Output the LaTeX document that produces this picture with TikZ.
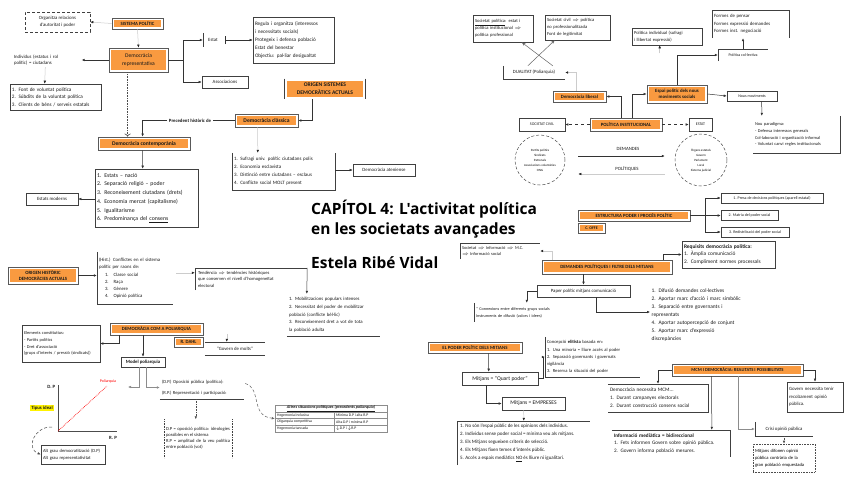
\documentclass[tikz,border=0pt]{standalone}
\usepackage{fontspec}
\setmainfont{Carlito}
\newfontfamily\ttlfont{Open Sans}
\usetikzlibrary{arrows.meta,calc}
\definecolor{orng}{HTML}{F99A40}
\newcommand\szA{\fontsize{5.6}{7.9}\selectfont}
\newcommand\szB{\fontsize{4.8}{6.6}\selectfont}
\newcommand\szC{\fontsize{4.0}{5.6}\selectfont}
\newcommand\dbl{\ensuremath{\Rightarrow}}
\tikzset{
  base/.style={inner sep=1.5pt, align=left, font=\szA, text=black!90},
  bx/.style={base, draw=black!75, line width=0.6pt, fill=white},
  nb/.style={base},
  ob/.style={base, align=center, font=\szB\bfseries, draw=black!65, line width=0.8pt, fill=white,
    path picture={\fill[orng] ([shift={(1.8pt,-1.8pt)}]path picture bounding box.north west) rectangle ([shift={(-1.8pt,1.8pt)}]path picture bounding box.south east);}},
  brd/.style={draw=black!75, line width=0.6pt},
  tip/.style={-{Latex[length=3pt,width=2.6pt]}},
  arr/.style={draw=black!80, line width=0.5pt, tip},
  arrg/.style={draw=black!20, line width=0.5pt, -{Latex[length=3pt,width=2.6pt,color=black!85]}},
  ln/.style={draw=black!80, line width=0.5pt},
  tl/.style={draw=black!45, line width=0.4pt},
  ttl/.style={anchor=base west, inner sep=0, font=\ttlfont\bfseries\fontsize{15.5}{18}\selectfont, text=black}
}
\begin{document}
\begin{tikzpicture}[x=1pt,y=-1pt]
\useasboundingbox[fill=white] (0,0) rectangle (848,477);

% ---------------- top left
\node[bx, densely dashed, minimum width=65, minimum height=20, align=center, font=\szB] (org) at (57.5,22) {Organitza relacions\\d'autoritat i poder};
\node[ob, minimum width=51, minimum height=11] (sp) at (137.5,23.5) {SISTEMA POLÍTIC};
\node[ob, minimum width=59, minimum height=24, font=\szA] (demrep) at (138.5,60) {Democràcia\\representativa};
\node[nb, text width=66, font=\szB] (indiv) at (47,60) {Individus (estatus i rol\\polític) = ciutadans};
\node[bx, minimum width=91, minimum height=26, text width=87, font=\fontsize{5.2}{7.6}\selectfont] (fontv) at (55.5,97) {1. Font de voluntat política\\2. Súbdits de la voluntat política\\3. Clients de béns / serveis estatals};
\node[nb, minimum width=20, minimum height=14, font=\szB] (estat) at (213,40) {Estat};
\node[bx, minimum width=81, minimum height=46, text width=77, font=\fontsize{5.2}{8}\selectfont] (estatb) at (293.5,40) {Regula i organitza (interessos\\i necessitats socials)\\Protegeix i defensa població\\Estat del benestar\\Objectiu: pal·liar desigualtat};
\node[bx, minimum width=46, minimum height=12, font=\szB] (assoc) at (225,82) {Associacions};
\node[ob, draw=none, minimum width=80, minimum height=20, font=\szA\bfseries] (orig) at (325,89) {ORIGEN SISTEMES\\DEMOCRÀTICS ACTUALS};
\node[ob, minimum width=63, minimum height=13, font=\szA\bfseries] (dcl) at (266.5,120.5) {Democràcia clàssica};
\node[nb, font=\szB\bfseries] (prec) at (190,120.5) {Precedent històric de};
\node[ob, minimum width=92, minimum height=13, font=\szA\bfseries] (dcon) at (144,143.5) {Democràcia contemporània};
\node[bx, minimum width=103, minimum height=58, text width=99, font=\fontsize{5.8}{8.7}\selectfont] (dcl6) at (146.5,198) {1. Estats – nació\\2. Separació religió – poder\\3. Reconeixement ciutadans (drets)\\4. Economia mercat (capitalisme)\\5. Igualitarisme\\6. Predominança del \underline{consens}};
\node[bx, minimum width=52, minimum height=12, font=\szB] (emod) at (52,199) {Estats moderns};
\node[nb, minimum width=103, minimum height=37, text width=99, font=\fontsize{5}{8}\selectfont] (cl4) at (283.5,171.5) {1. Sufragi univ. polític ciutadans polis\\2. Economia esclavista\\3. Distinció entre ciutadans – esclaus\\4. Conflicte social MOLT present};
\node[bx, minimum width=62, minimum height=12, font=\szB] (aten) at (384,170) {Democràcia ateniense};

% ---------------- title
\node[ttl] (t1) at (311,214) {CAPÍTOL 4: L'activitat política};
\node[ttl] (t2) at (311,234) {en les societats avançades};
\node[ttl] (t3) at (311,268) {Estela Ribé Vidal};

% ---------------- left middle
\node[ob, minimum width=70, minimum height=17, font=\szB\bfseries] (oh) at (43,275.5) {ORIGEN HISTÒRIC\\DEMOCRÀCIES ACTUALS};
\node[nb, minimum width=76, minimum height=52, text width=72, font=\fontsize{4.8}{7}\selectfont] (hist) at (135,278) {(Hist.) Conflictes en el sistema\\polític per raons de:\\[1pt]\hspace*{6pt}1.\hspace{5pt}Classe social\\\hspace*{6pt}2.\hspace{5pt}Raça\\\hspace*{6pt}3.\hspace{5pt}Gènere\\\hspace*{6pt}4.\hspace{5pt}Opinió política};
\node[nb, minimum width=112, minimum height=22, text width=106, font=\fontsize{4.6}{6.5}\selectfont] (tend) at (251,279) {Tendència \dbl{} tendències històriques\\que conserven el nivell d'homogeneïtat\\electoral};
\node[nb, minimum width=93, minimum height=42, text width=89, font=\fontsize{4.8}{7.7}\selectfont] (mob) at (333.5,315) {1. Mobilitzacions populars intenses\\2. Necessitat del poder de mobilitzar\\població (conflicte bèl·lic)\\3. Reconeixement dret a vot de tota\\la població adulta};

% ---------------- poliarquia
\node[ob, minimum width=93, minimum height=12, font=\szB\bfseries] (dpol) at (156.5,329) {DEMOCRÀCIA COM A POLIARQUIA};
\node[ob, minimum width=29, minimum height=10, font=\szB\bfseries] (rdahl) at (188.5,342) {R. DAHL};
\node[nb, minimum width=60, minimum height=13, font=\szB] (gm) at (235,348.5) {“Govern de molts”};
\node[bx, minimum width=78, minimum height=37, text width=74, font=\fontsize{4.4}{6.8}\selectfont] (elem) at (61,343.5) {Elements constitutius:\\- Partits polítics\\- Dret d'associació\\(grups d'interès / pressió (sindicats))};
\node[bx, minimum width=44, minimum height=10, font=\szB\bfseries] (model) at (143,362) {Model poliarquia};
\node[nb, minimum width=84, minimum height=23, text width=80, font=\fontsize{4.6}{11}\selectfont] (dprp) at (202,387.5) {(D.P.) Oposició pública (política):\\(R.P.) Representació i participació:};
\coordinate (pl) at (128,387);
\coordinate (O) at (58,431);
\coordinate (ytop) at (58,385);
\coordinate (xend) at (117,431);
\coordinate (pq) at (107,386);
\node[nb, font=\szB\bfseries, anchor=east] (dpl) at (57,387) {D. P};
\node[nb, font=\szB\bfseries] (rpl) at (113,438) {R. P};
\node[nb, text=red, font=\szC] (polq) at (108,381) {Poliarquia};
\node[nb, fill=yellow, inner sep=0.8pt, font=\szB\bfseries] (tid) at (42,408) {Tipus ideal};
\node[bx, minimum width=64, minimum height=19, text width=60, font=\fontsize{4.6}{6.5}\selectfont] (idb) at (73,454.5) {Alt grau democratització (D.P)\\Alt grau representativitat};
\node[nb, minimum width=68, minimum height=38, text width=64, align=justify, font=\fontsize{4.6}{6}\selectfont] (dpbox) at (198,438.5) {D.P = oposició política: ideologies possibles en el sistema\\R.P = amplitud de la veu política entre població (vot)};
\node[draw=black!45, line width=0.4pt, minimum width=112, minimum height=27, inner sep=0] (tbl) at (331,418.5) {};
\node[nb, font=\fontsize{4.2}{5}\selectfont\bfseries\itshape, inner sep=0] (th) at (331,408.5) {\underline{Altres situacions polítiques (precedents poliarquia)}};
\node[nb, anchor=west, font=\fontsize{3.8}{5}\selectfont, inner sep=0] (r1a) at (277,415.3) {Hegemonia inclusiva};
\node[nb, anchor=west, font=\fontsize{3.8}{5}\selectfont, inner sep=0] (r1b) at (336,415.3) {Mínima D.P i alta R.P};
\node[nb, anchor=west, font=\fontsize{3.8}{5}\selectfont, inner sep=0] (r2a) at (277,421.8) {Oligarquia competitiva};
\node[nb, anchor=west, font=\fontsize{3.8}{5}\selectfont, inner sep=0] (r2b) at (336,421.8) {Alta D.P i mínima R.P};
\node[nb, anchor=west, font=\fontsize{3.8}{5}\selectfont, inner sep=0] (r3a) at (277,428.5) {Hegemonia tancada};
\node[nb, anchor=west, font=\fontsize{3.8}{5}\selectfont, inner sep=0] (r3b) at (336,428.5) {$\downarrow$D.P i $\downarrow$R.P};

% ---------------- right top
\node[bx, minimum width=60, minimum height=27, text width=56, font=\fontsize{4.6}{7}\selectfont] (socp) at (503,28.5) {\underline{Societat política}: estat i\\política institucional \dbl\\política professional};
\node[bx, minimum width=65, minimum height=25, text width=61, font=\fontsize{4.6}{7}\selectfont] (socc) at (577.5,27.5) {Societat civil \dbl{} política\\no professionalitzada\\Font de legitimitat};
\node[nb, minimum width=62, minimum height=13, font=\szB] (dual) at (534,72.5) {DUALITAT (Poliarquia)};
\node[ob, minimum width=53, minimum height=11, font=\szB\bfseries] (dlib) at (579.5,96.5) {Democràcia liberal};
\node[ob, minimum width=72, minimum height=13, font=\szB\bfseries] (pinst) at (626,124.5) {POLÍTICA INSTITUCIONAL};
\node[ob, minimum width=60, minimum height=18, font=\szB\bfseries] (espai) at (677,94) {Espai polític dels nous\\moviments socials};
\node[nb, minimum width=50, minimum height=12, font=\szC] (pcol) at (743,55) {Política col·lectiva};
\node[bx, minimum width=70, minimum height=17, text width=66, font=\fontsize{4.6}{6.6}\selectfont] (pind) at (667,36.5) {Política individual (sufragi\\i llibertat expressió)};
\node[nb, minimum width=77, minimum height=28, text width=73, font=\fontsize{4.8}{7.5}\selectfont] (form) at (750.5,24) {Formes de pensar\\Formes expressió demandes\\Formes inst. negociació};
\node[bx, minimum width=50, minimum height=10, font=\szC] (nmov) at (752,96) {Nous moviments};
\node[nb, minimum width=87, minimum height=37, text width=83, font=\fontsize{4.4}{6.8}\selectfont] (npar) at (796.5,134.5) {Nou paradigma:\\- Defensa interessos generals\\Col·laboració i organització informal\\- Voluntat canvi regles institucionals};
\node[bx, minimum width=46, minimum height=13, font=\szC] (sciv) at (542,124.5) {SOCIETAT CIVIL};
\node[bx, minimum width=23, minimum height=13, font=\szC] (est2) at (700.5,124.5) {ESTAT};
\node[circle, draw=black!70, densely dashed, line width=0.5pt, minimum size=50, align=center, inner sep=0, font=\fontsize{3.2}{5}\selectfont] (c1) at (540,160) {Partits polítics\\Sindicats\\Patronals\\Associacions voluntàries\\ONG};
\node[circle, draw=black!70, densely dashed, line width=0.5pt, minimum size=52, align=center, inner sep=0, font=\fontsize{3.2}{5}\selectfont] (c2) at (701,160) {Òrgans estatals\\Govern\\Parlament\\Local\\Sistema judicial};
\node[nb, font=\szB] (dem) at (628,149) {DEMANDES};
\node[nb, font=\szB] (polt) at (627,169) {POLÍTIQUES};

% ---------------- right middle
\node[ob, minimum width=112, minimum height=11, font=\szB\bfseries] (estr) at (634,215.5) {ESTRUCTURA PODER I PROCÉS POLÍTIC};
\node[ob, minimum width=27, minimum height=10, font=\szC\bfseries] (offe) at (591.5,228) {C. OFFE};
\node[bx, minimum width=102, minimum height=10, font=\fontsize{4}{5}\selectfont] (s1) at (772,198) {1. Presa de decisions polítiques (aparell estatal)};
\node[bx, minimum width=57, minimum height=10, font=\fontsize{4}{5}\selectfont] (s2) at (749.5,215.5) {2. Matriu del poder social};
\node[bx, minimum width=68, minimum height=10, font=\fontsize{4}{5}\selectfont] (s3) at (755,232) {3. Redistribució del poder social};
\node[bx, minimum width=93, minimum height=27, text width=89, font=\fontsize{5.4}{7.6}\selectfont] (req) at (728.5,254.5) {\textbf{Requisits democràcia política:}\\1. Àmplia comunicació\\2. Compliment normes processals};
\node[ob, minimum width=130, minimum height=14, font=\szB\bfseries] (dmd) at (607,267) {DEMANDES POLÍTIQUES I FILTRE DELS MITJANS};
\node[nb, minimum width=80, minimum height=16, text width=76, font=\fontsize{4.4}{6.6}\selectfont] (sinf) at (500,251) {Societat \dbl{} Informació \dbl{} M.C.\\\dbl{} Informació social};
\node[bx, minimum width=93, minimum height=12, font=\szB] (pap) at (583.5,291) {Paper polític mitjans comunicació};
\node[nb, minimum width=96, minimum height=19, text width=92, font=\fontsize{4.2}{7}\selectfont] (cnx) at (522,312.5) {* Connexions entre diferents grups socials\\* Instruments de difusió (valors i idees)};
\node[nb, anchor=west, text width=150, font=\fontsize{5.4}{7.9}\selectfont] (fun) at (650,315) {1. Difusió demandes col·lectives\\2. Aportar marc d'acció i marc simbòlic\\3. Separació entre governants i\\representats\\4. Aportar autopercepció de conjunt\\5. Aportar marc d'expressió\\discrepàncies};

% ---------------- right bottom
\node[ob, minimum width=94, minimum height=11, font=\szB\bfseries] (ppm) at (475,347.5) {EL PODER POLÍTIC DELS MITJANS};
\node[bx, minimum width=76, minimum height=13, font=\szA] (qp) at (500,378.5) {Mitjans = “Quart poder”};
\node[nb, minimum width=95, minimum height=40, text width=91, font=\fontsize{4.6}{7.2}\selectfont] (elit) at (592.5,357) {Concepció \textbf{elitista} basada en:\\1. Una minoria = lliure accés al poder\\2. Separació governants i governats\\vigilància\\3. Reserva la situació del poder};
\node[bx, minimum width=63, minimum height=13, font=\szA] (emp) at (533.5,403.5) {Mitjans = EMPRESES};
\node[nb, minimum width=133, minimum height=44, text width=127, align=justify, font=\fontsize{5}{7.9}\selectfont] (ml) at (523.5,443) {1. No són l'espai públic de les opinions dels individus.\\2. Individus sense poder social = mínima veu als mitjans.\\3. Els Mitjans segueixen criteris de selecció.\\4. Els Mitjans fixen temes d'interès públic.\\5. Accés a espais mediàtics \underline{NO} és lliure ni igualitari.};
\node[ob, minimum width=131, minimum height=12, font=\fontsize{4.6}{6}\selectfont\bfseries] (mcm) at (737.5,370) {MCM I DEMOCRÀCIA: REALITATS I POSSIBILITATS};
\node[nb, minimum width=100, minimum height=28, text width=96, font=\fontsize{5.2}{7.8}\selectfont] (nec) at (658,398) {Democràcia necessita MCM...\\1. Durant campanyes electorals\\2. Durant construcció consens social};
\node[nb, minimum width=118, minimum height=27, text width=114, font=\fontsize{5.2}{7.8}\selectfont] (inf) at (671,443.5) {\textbf{Informació mediàtica = bidireccional}\\1. Fets informen Govern sobre opinió pública.\\2. Govern informa població mesures.};
\node[nb, minimum width=58, minimum height=14, font=\szB] (cri) at (784,429) {Crisi opinió pública};
\node[draw=black!70, densely dotted, line width=0.6pt, minimum width=62, minimum height=28, text width=58, align=left, inner sep=2pt, font=\fontsize{4.6}{7}\selectfont] (mdib) at (784,458) {Mitjans difonen opinió\\pública contrària de la\\gran població enquestada};
\node[bx, minimum width=56, minimum height=30, text width=52, font=\fontsize{4.8}{7.4}\selectfont] (gov) at (815,397) {Govern necessita tenir\\recolzament opinió\\pública.};

% ================= partial borders
\draw[brd] (estat.north west) -- (estat.south west);
\draw[brd] (orig.north west) -- (orig.south west);
\draw[brd] (orig.north east) -- (orig.south east);
\draw[brd] (cl4.north west) -- (cl4.south west) -- (cl4.south east) -- (cl4.north east);
\draw[brd] (hist.north west) -- (hist.south west) -- (hist.south east);
\draw[brd] (tend.south west) -- (tend.north west) -- (tend.north east);
\draw[brd] (mob.south west) -- (mob.south east);
\draw[brd] (gm.north west) -- (gm.north east);
\draw[brd] (gm.south west) -- (gm.south east);
\draw[brd] (dprp.south west) -- (dprp.south east);
\draw[brd, densely dotted] (dpbox.north west) -- (dpbox.south west);
\draw[brd, densely dotted] (dpbox.north east) -- (dpbox.south east);
\draw[brd] (dual.north west) -- (dual.south west) -- (dual.south east);
\draw[brd] (pcol.south west) -- (pcol.north west) -- (pcol.north east);
\draw[brd] (form.south west) -- (form.north west) -- (form.north east) -- (form.south east);
\draw[brd] (npar.north east) -- (npar.south east) -- (npar.south west);
\draw[brd] (sinf.south west) -- (sinf.north west) -- (sinf.north east);
\draw[brd] (cnx.north west) -- (cnx.south west);
\draw[brd] (elit.north west) -- (elit.south west) -- (elit.south east);
\draw[brd] (ml.south west) -- (ml.north west) -- (ml.north east);
\draw[brd] (nec.north west) -- (nec.north east) -- (nec.south east) -- (nec.south west);
\draw[brd] (inf.north west) -- (inf.north east) -- (inf.south east);
\draw[brd] (cri.north west) -- (cri.south west) -- (cri.south east);
% table lines
\draw[tl] ($(tbl.north west)+(0,7)$) -- ($(tbl.north east)+(0,7)$);
\draw[tl] ($(tbl.north west)+(0,13.5)$) -- ($(tbl.north east)+(0,13.5)$);
\draw[tl] ($(tbl.north west)+(0,20)$) -- ($(tbl.north east)+(0,20)$);
\draw[tl] ($(tbl.north west)+(59,7)$) -- ($(tbl.south west)+(59,0)$);

% ================= connectors
\draw[arrg] (sp.west) -- (org.east);
\draw[arrg] (sp.south) -- (demrep.north);
\draw[arr] (demrep.west) -- (indiv.east);
\draw[arrg] ($(indiv.south west)+(33,0)$) -- ($(fontv.north west)+(35,0)$);
\coordinate (br1) at ($(demrep.east)+(15,0)$);
\draw[ln] (demrep.east) -- (br1);
\draw[arr] (br1) |- (estat.west);
\draw[arr] (br1) |- (assoc.west);
\draw[ln, {Bar[width=8pt]}-{Latex[length=3pt,width=2.6pt]}] ($(estat.east)+(2,0)$) -- (estatb.west);
\draw[arr] ($(orig.south west)+(28,0)$) |- (dcl.east);
\draw[ln] (dcl.west) -- (prec.east);
\draw[arr] (prec.west) -| ($(dcon.north west)+(45,0)$);
\draw[densely dotted, line width=0.6pt, black!70, -{To[length=3pt]}] ($(demrep.south west)+(19,0)$) -- ($(dcon.north west)+(30,0)$);
\draw[arr] ($(dcon.south west)+(45,0)$) -- ($(dcl6.north west)+(48,0)$);
\draw[arr] (dcl6.west |- emod.east) -- (emod.east);
\draw[arrg] ($(dcl.south west)+(23,0)$) -- ($(cl4.north west)+(26,0)$);
\draw[arr] (cl4.east |- aten.west) -- (aten.west);

\draw[arr] (oh.east) -- (oh.east -| hist.west);
\draw[arrg] ($(hist.north east)+(3,21)$) -- ($(tend.north west)+(0,5)$);
\draw[arr] (tend.north east) -- ($(mob.north west)+(20,0)$);

\draw[arr] ($(dpol.south west)+(10,0)$) |- (elem.east);
\draw[arr] (dpol.south -| model.north) -- (model.north);
\draw[arrg] ($(gm.north west)+(22,-8)$) -- ($(gm.north west)+(22,0)$);
\draw[arr, draw=black!45] ($(model.south)+(-4,0)$) |- (pl);
\draw[arr, draw=black!45] ($(model.south)+(3,0)$) |- (dprp.west);
\draw[line width=0.9pt, black!70] (ytop) -- (O) -- (xend);
\draw[red, densely dotted, line width=0.7pt] (O) -- (pq);
\draw[densely dashed, line width=0.5pt, black!70, tip] ($(O)+(-6,-4)$) .. controls (35,426) and (25,448) .. (idb.west);
\draw[densely dotted, line width=0.6pt, black!70, tip] ($(dprp.south west)+(36,0)$) -- ($(dpbox.north west)+(32,0)$);
\draw[densely dashed, line width=0.5pt, black!60, tip] ($(dprp.east)+(1,-4)$) .. controls (262,388) and (250,416) .. (tbl.west);

\draw[black!60, line width=0.5pt, -{Stealth[length=4pt,width=3pt,open]}] ($(dual.north west)+(50,0)$) -- ($(socp.south west)+(49,0)$);
\draw[black!60, line width=0.5pt, -{Stealth[length=4pt,width=3pt,open]}] ($(dual.north west)+(25,0)$) -- ($(socc.south west)+(10,0)$);
\draw[arrg] ($(dlib.north west)+(24,0)$) |- (dual.east);
\draw[arr] ($(pinst.north west)+(32,0)$) |- (dlib.east);
\draw[arr] ($(pinst.north west)+(43,0)$) |- (espai.west);
\draw[arr] (espai.north) |- (pcol.west);
\draw[arr] (pcol.north) -- (pcol.north |- form.south);
\draw[arrg] ($(pind.south west)+(28,8)$) -- ($(pind.south west)+(28,0)$);
\draw[arr] (espai.east) -- (nmov.west);
\draw[arr] ($(nmov.south west)+(35,0)$) -- ($(npar.north west)+(9,0)$);
\draw[ln, dashed, tip] (pinst.west) -- (sciv.east);
\draw[ln, dashed, tip] (pinst.east) -- (est2.west);
\draw[arr] ($(c1.east)+(13,-4)$) -- ($(c2.west)+(-10,-4)$);
\draw[arrg] ($(c2.west)+(-10,14)$) -- ($(c1.east)+(13,14)$);

\coordinate (bj) at ($(estr.east)+(15,0)$);
\draw[ln] (estr.east) -- (bj);
\draw[arr] (bj) |- (s1.west);
\draw[arr] (bj) -- (s2.west);
\draw[arr] (bj) |- (s3.west);
\draw[arr] ($(dmd.north east)+(-9,0)$) |- (req.west);
\draw[arrg] ($(dmd.north west)+(11,0)$) |- (sinf.east);
\draw[arr] (dmd.south -| pap.north) -- (pap.north);
\draw[arr] (pap.west) -| ($(cnx.north west)+(53,0)$);
\draw[arr] ($(pap.south west)+(60,0)$) |- ($(fun.west)+(0,-3)$);

\draw[arr] ($(ppm.south west)+(61,0)$) -- ($(qp.north west)+(27,0)$);
\draw[arr] (qp.east) -- ++(5,0) |- (elit.west);
\draw[arr] ($(qp.south west)+(25,0)$) |- (emp.west);
\draw[arrg] ($(emp.south west)+(22,0)$) -- ($(ml.north west)+(67,0)$);
\draw[arr] (mcm.west) -| (nec.north);
\draw[arr] ($(mcm.south west)+(40,0)$) -- ($(inf.north west)+(100,0)$);
\draw[arr, draw=black!45] ($(mcm.south west)+(67,0)$) |- (cri.west);
\draw[densely dotted, line width=0.6pt, black!70, tip] (cri.south) -- (mdib.north);
\draw[arr] (mcm.east) -| (gov.north);
\end{tikzpicture}
\end{document}
